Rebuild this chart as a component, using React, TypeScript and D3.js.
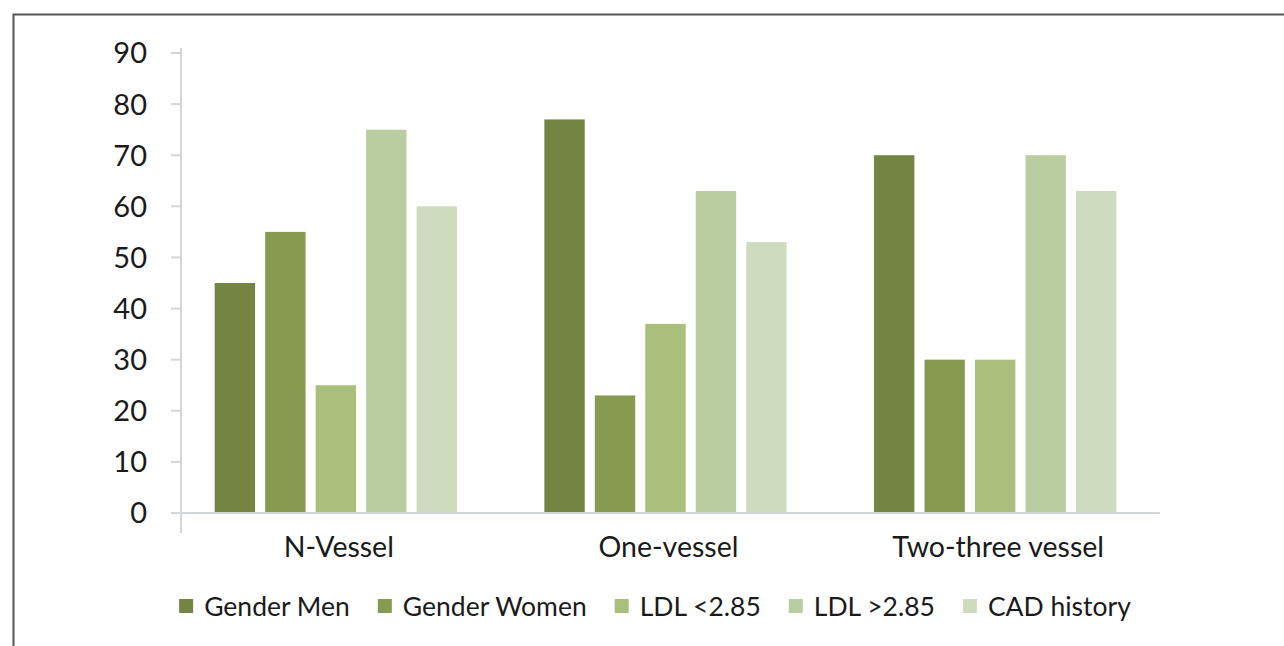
import React, { useRef, useEffect } from 'react';
import * as d3 from 'd3';

const categories = ['N-Vessel', 'One-vessel', 'Two-three vessel'];
const seriesNames = ['Gender Men', 'Gender Women', 'LDL <2.85', 'LDL >2.85', 'CAD history'];
const genderMen = [45, 77, 70];
const genderWomen = [55, 23, 30];
const ldlLow = [25, 37, 30];
const ldlHigh = [75, 63, 70];
const cadHistory = [60, 53, 63];
const yTicks = [0, 10, 20, 30, 40, 50, 60, 70, 80, 90];
const colors = ['#738443', '#889a50', '#a9bf7b', '#b9cda0', '#cedbbf'];

const W = 1284;
const H = 646;

const App = () => {
    const ref = useRef(null);

    useEffect(() => {
        const svg = d3.select(ref.current);
        svg.selectAll('*').remove();

        const series = [genderMen, genderWomen, ldlLow, ldlHigh, cadHistory];
        const font = 'Lato, "Open Sans", sans-serif';

        // outer frame, runs past the right and bottom edges
        svg.append('rect')
            .attr('x', 13.5).attr('y', 14.5)
            .attr('width', W + 20).attr('height', H + 20)
            .attr('fill', 'none')
            .attr('stroke', '#555')
            .attr('stroke-width', 2);

        const x0 = d3.scaleBand().domain(categories).range([171, 1160]);
        const x1 = d3.scaleBand().domain(seriesNames).range([0, x0.bandwidth()])
            .paddingInner(0.2).paddingOuter(0.865);
        const y = d3.scaleLinear().domain([0, 90]).range([513, 53]);

        const g = svg.append('g');

        // y axis line + ticks
        g.append('line')
            .attr('x1', 181).attr('x2', 181)
            .attr('y1', y(90) - 5).attr('y2', y(0) + 20)
            .attr('stroke', '#d3d6d8').attr('stroke-width', 2);

        yTicks.forEach((t) => {
            g.append('line')
                .attr('x1', 171).attr('x2', 181)
                .attr('y1', y(t)).attr('y2', y(t))
                .attr('stroke', '#d3d6d8').attr('stroke-width', 2);
            g.append('text')
                .attr('x', 147).attr('y', y(t))
                .attr('dy', '0.36em')
                .attr('text-anchor', 'end')
                .style('font-family', font)
                .style('font-size', '29px')
                .attr('fill', '#1a1a1a')
                .text(t);
        });

        // bars
        categories.forEach((c, ci) => {
            series.forEach((s, si) => {
                g.append('rect')
                    .attr('x', x0(c) + x1(seriesNames[si]))
                    .attr('y', y(s[ci]))
                    .attr('width', x1.bandwidth())
                    .attr('height', y(0) - y(s[ci]))
                    .attr('fill', colors[si]);
            });
        });

        // baseline
        g.append('line')
            .attr('x1', 171).attr('x2', 1160)
            .attr('y1', y(0)).attr('y2', y(0))
            .attr('stroke', '#d3d6d8').attr('stroke-width', 2);

        // category labels
        categories.forEach((c) => {
            g.append('text')
                .attr('x', x0(c) + x0.bandwidth() / 2 + 3)
                .attr('y', 557)
                .attr('text-anchor', 'middle')
                .style('font-family', font)
                .style('font-size', '28.5px')
                .attr('fill', '#1a1a1a')
                .text(c);
        });

        // legend, laid out from measured text widths
        const legend = svg.append('g');
        const gap = 28;
        let lx = 0;
        seriesNames.forEach((name, i) => {
            const item = legend.append('g').attr('transform', `translate(${lx},0)`);
            item.append('rect')
                .attr('x', 0).attr('y', -7)
                .attr('width', 14).attr('height', 14)
                .attr('fill', colors[i]);
            const txt = item.append('text')
                .attr('x', 25).attr('y', 0)
                .attr('dy', '0.36em')
                .style('font-family', font)
                .style('font-size', '26.5px')
                .attr('fill', '#1a1a1a')
                .text(name);
            lx += 25 + txt.node().getComputedTextLength() + gap;
        });
        const total = lx - gap;
        legend.attr('transform', `translate(${655 - total / 2},606)`);
    }, []);

    return (
        <div style={{ position: 'absolute', left: 0, top: 0, width: W, height: H, background: 'white' }}>
            <svg ref={ref} width={W} height={H} style={{ display: 'block' }}></svg>
        </div>
    );
};

export default App;
